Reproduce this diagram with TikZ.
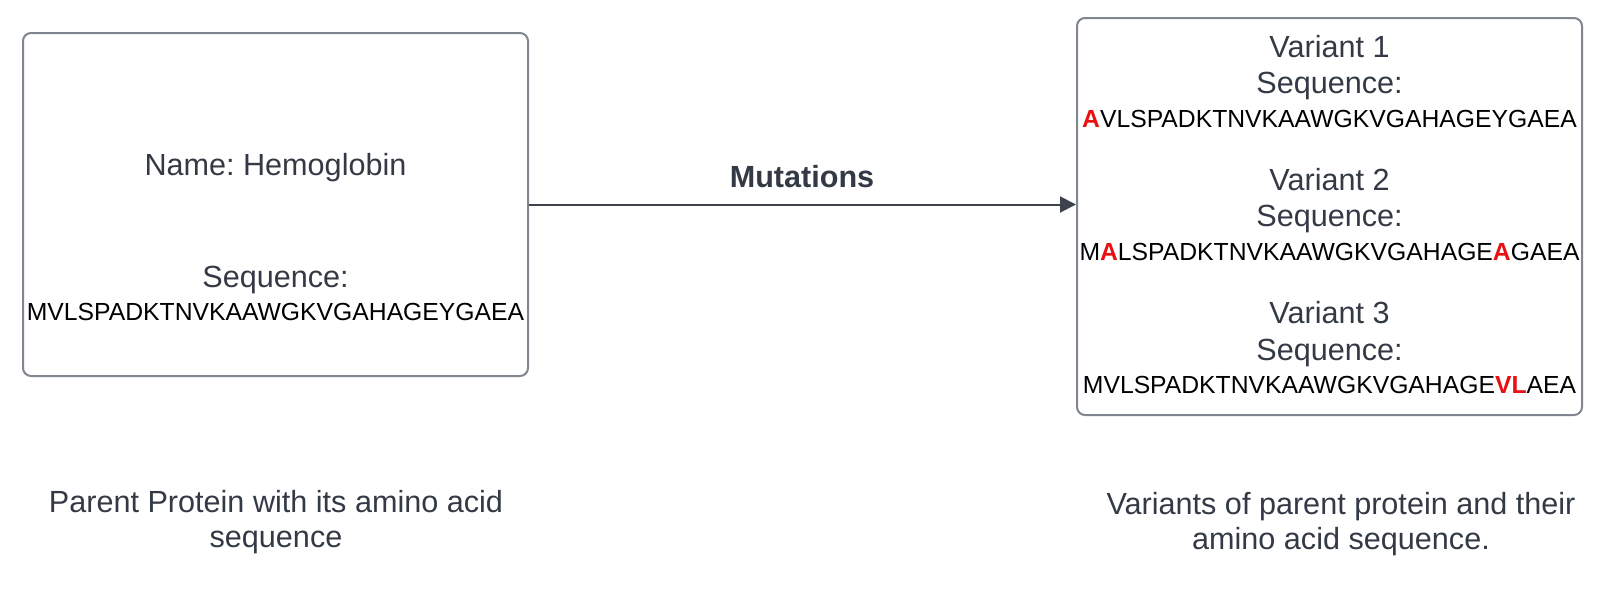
\documentclass[tikz,border=0pt]{standalone}
\usepackage{fontspec}
\setmainfont{Liberation Sans}
\usetikzlibrary{arrows.meta}
\definecolor{slate}{HTML}{333A45}
\definecolor{boxgray}{HTML}{80868D}
\definecolor{arrowc}{HTML}{3D434D}
\definecolor{seqred}{HTML}{E81010}
\newcommand{\mut}[1]{{\color{seqred}\bfseries #1}}
\frenchspacing
\tikzset{
  box/.style={draw=boxgray, line width=1pt, rounded corners=4pt, inner sep=0pt},
  lbl/.style={anchor=base, inner sep=0pt, text=slate, font=\fontsize{15.3pt}{18pt}\selectfont},
  seq/.style={anchor=base, inner sep=0pt, text=black, font=\fontsize{12.36pt}{15pt}\selectfont},
  conn/.style={draw=arrowc, line width=1pt, -{Triangle[length=8pt,width=8pt]}}
}
\begin{document}
\begin{tikzpicture}[x=0.5pt,y=-0.5pt]
\useasboundingbox (0,0) rectangle (1614,590);
% boxes
\node[box, minimum width=252.5pt, minimum height=171.5pt] (parent) at (275.5,204.5) {};
\node[box, minimum width=252.5pt, minimum height=198.5pt] (variants) at (1329.5,216.5) {};
% parent texts
\node[lbl] (pname) at (275.5,175) {Name: Hemoglobin};
\node[lbl] (pseqlbl) at (275.5,287) {Sequence:};
\node[seq] (pseq) at (275.5,320) {MVLSPADKTNVKAAWGKVGAHAGEYGAEA};
% variant texts
\node[lbl] (v1) at (1329.5,57) {Variant 1};
\node[lbl] (v1l) at (1329.5,93) {Sequence:};
\node[seq] (v1s) at (1329.5,127) {\mut{A}VLSPADKTNVKAAWGKVGAHAGEYGAEA};
\node[lbl] (v2) at (1329.5,190) {Variant 2};
\node[lbl] (v2l) at (1329.5,226.5) {Sequence:};
\node[seq] (v2s) at (1329.5,260) {M\mut{A}LSPADKTNVKAAWGKVGAHAGE\mut{A}GAEA};
\node[lbl] (v3) at (1329.5,323.5) {Variant 3};
\node[lbl] (v3l) at (1329.5,360) {Sequence:};
\node[seq] (v3s) at (1329.5,393.5) {MVLSPADKTNVKAAWGKVGAHAGE\mut{VL}AEA};
% connector
\draw[conn] (parent.east) -- (parent.east -| variants.west);
\node[lbl, font=\fontsize{15.3pt}{18pt}\selectfont\bfseries] (mutlbl) at (802,187) {Mutations};
% captions
\node[lbl, anchor=north, align=center, font=\fontsize{15.3pt}{17.5pt}\selectfont] (pcap) at (276,490) {Parent Protein with its amino acid\\sequence};
\node[lbl, anchor=north, align=center, font=\fontsize{15.3pt}{17.5pt}\selectfont] (vcap) at (1341,492) {Variants of parent protein and their\\amino acid sequence.};
\end{tikzpicture}
\end{document}
